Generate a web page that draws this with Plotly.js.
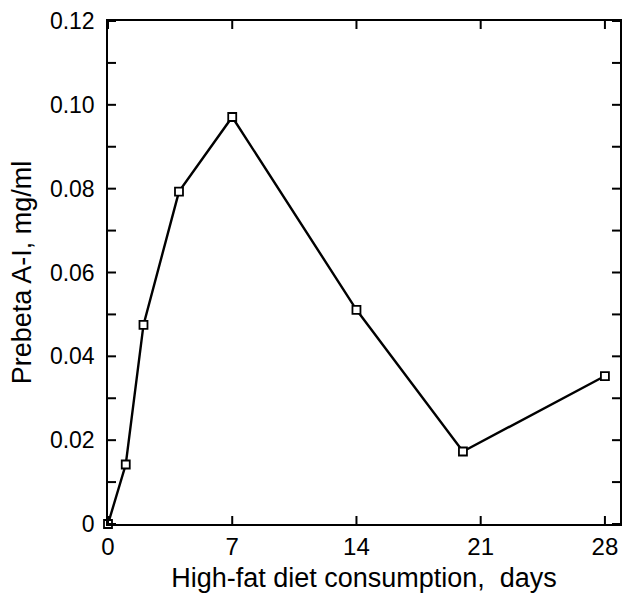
<!DOCTYPE html>
<html>
<head>
<meta charset="utf-8">
<script src="https://cdn.plot.ly/plotly-3.0.1.min.js"></script>
<style>html,body{margin:0;padding:0;background:#fff;}#chart{width:625px;height:593px;}</style>
</head>
<body>
<div id="chart"></div>
<script>
const days = [0, 1, 2, 4, 7, 14, 20, 28];
const prebetaAI = [0, 0.0142, 0.0475, 0.0793, 0.0971, 0.0511, 0.0173, 0.0353];
const xTickVals = [0, 7, 14, 21, 28];
const xTickText = ["0", "7", "14", "21", "28"];
const yTickVals = [0, 0.02, 0.04, 0.06, 0.08, 0.10, 0.12];
const yTickText = ["0", "0.02", "0.04", "0.06", "0.08", "0.10", "0.12"];
const yAllTickVals = [0, 0.01, 0.02, 0.03, 0.04, 0.05, 0.06, 0.07, 0.08, 0.09, 0.10, 0.11, 0.12];

const fam = 'Liberation Sans, Arial, sans-serif';
const pad = '\u2009\u200a';
const xRange = [0, 28.85], yRange = [0, 0.12];
const tickLen = 8;

const trace = {
  x: days, y: prebetaAI, type: 'scatter', mode: 'lines+markers',
  line: {color: '#000', width: 2.4},
  marker: {symbol: 'square', size: 8, color: '#fff', line: {color: '#000', width: 1.8}},
  cliponaxis: false, hoverinfo: 'skip'
};

// inward tick marks on all four sides, placed at the tick values through the axes' scales
const tickLine = {color: '#000', width: 2};
const shapes = [];
xTickVals.forEach(v => {
  shapes.push({type: 'line', xref: 'x', yref: 'paper', ysizemode: 'pixel', yanchor: 0,
    x0: v, x1: v, y0: 0, y1: tickLen, line: tickLine, layer: 'above'});
  shapes.push({type: 'line', xref: 'x', yref: 'paper', ysizemode: 'pixel', yanchor: 1,
    x0: v, x1: v, y0: 0, y1: -tickLen, line: tickLine, layer: 'above'});
});
yAllTickVals.forEach(v => {
  shapes.push({type: 'line', xref: 'paper', yref: 'y', xsizemode: 'pixel', xanchor: 0,
    x0: 0, x1: tickLen, y0: v, y1: v, line: tickLine, layer: 'above'});
  shapes.push({type: 'line', xref: 'paper', yref: 'y', xsizemode: 'pixel', xanchor: 1,
    x0: 0, x1: -tickLen, y0: v, y1: v, line: tickLine, layer: 'above'});
});

const layout = {
  width: 625, height: 593,
  margin: {l: 108, r: 5, t: 21, b: 69},
  paper_bgcolor: '#fff', plot_bgcolor: '#fff',
  showlegend: false,
  font: {family: fam, color: '#000'},
  shapes: shapes,
  xaxis: {
    range: xRange, tickmode: 'array', tickvals: xTickVals, ticktext: xTickText, ticks: '',
    showline: true, linecolor: '#000', linewidth: 2.4, mirror: true,
    showgrid: false, zeroline: false,
    tickfont: {family: fam, size: 24, color: '#000'},
    title: {text: 'High-fat diet consumption,  days', font: {family: fam, size: 27, color: '#000'}, standoff: 10}
  },
  yaxis: {
    range: yRange, tickmode: 'array', tickvals: yTickVals, ticktext: yTickText.map(t => t + pad), ticks: '',
    showline: true, linecolor: '#000', linewidth: 2.4, mirror: true,
    showgrid: false, zeroline: false,
    tickfont: {family: fam, size: 23, color: '#000'},
    title: {text: 'Prebeta A-I, mg/ml', font: {family: fam, size: 27, color: '#000'}, standoff: 10}
  }
};
Plotly.newPlot('chart', [trace], layout, {displayModeBar: false});
</script>
</body>
</html>
